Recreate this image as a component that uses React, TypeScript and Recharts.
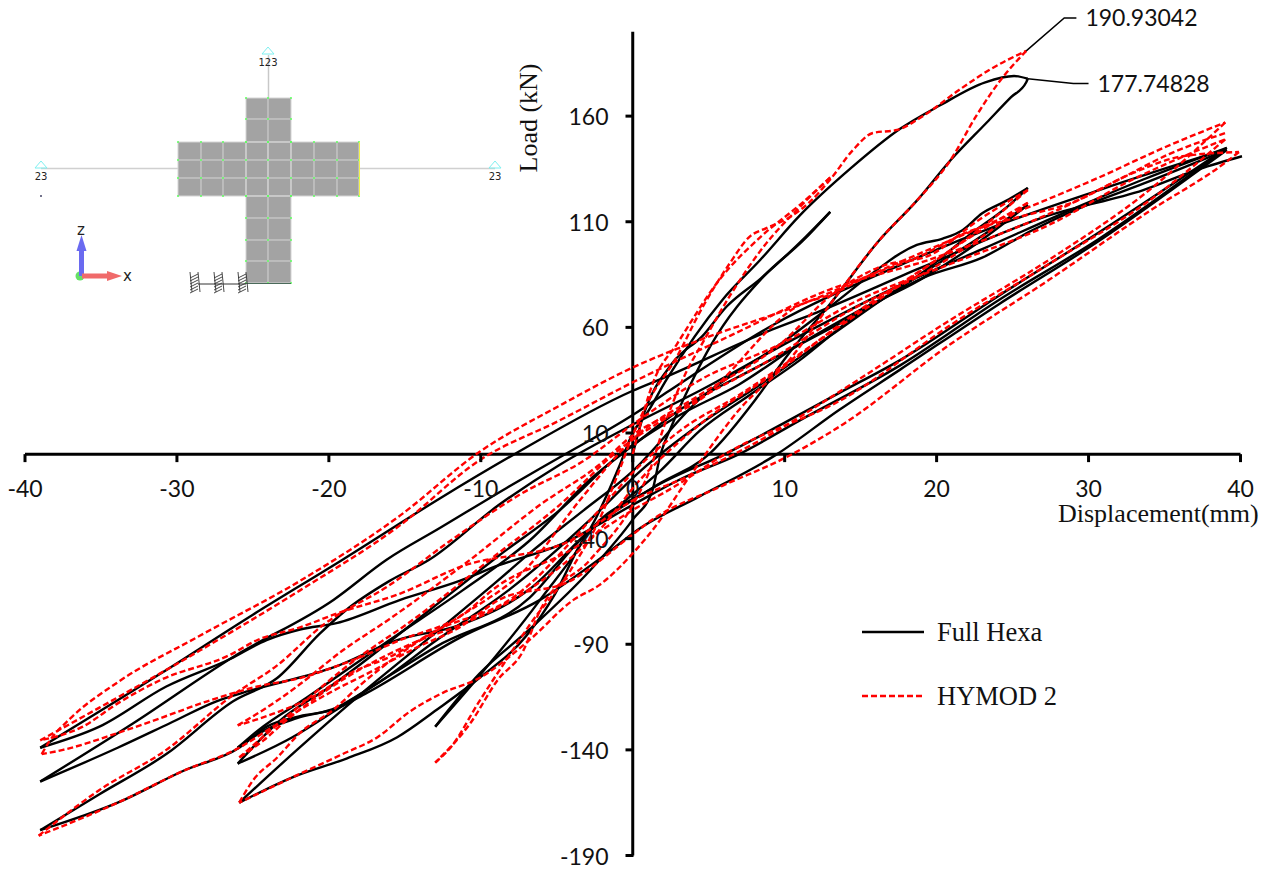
import React from 'react';
import { LineChart, Line, XAxis, YAxis, ReferenceLine, ReferenceDot, Legend } from 'recharts';

type P = [number, number];

const xTicks = [-40, -30, -20, -10, 0, 10, 20, 30, 40];
const yTicks = [-190, -140, -90, -40, 10, 60, 110, 160];
const xDomain: P = [-40, 40];
const yDomain: P = [-190, 210];
const yAxisTop = 200;
const seriesNames = ['Full Hexa', 'HYMOD 2'];

// Full Hexa: one array per half-cycle [displacement, load]
const hexa1: P[] = [[0,0],[0.6,16],[2.6,43],[4.6,56],[6.2,70],[8.4,83],[11.4,103],[13,114.7]];
const hexa2: P[] = [[13,114.7],[11.2,101],[8.6,84],[5.1,51],[3.8,33],[2.6,14],[1.8,-1],[1.3,-17],[0,-31],[-2.8,-55],[-6.8,-83],[-10.1,-104],[-13,-129]];
const hexa3: P[] = [[-13,-129],[-10.1,-105],[-6.1,-69],[-2.4,-30],[-0.9,-6],[0,10],[0.9,19],[2.2,35],[5.9,73],[8.4,92],[11,113],[14.3,135],[17.6,154],[20.2,165],[23.2,176],[25.1,179],[26,177.7]];
const hexa4: P[] = [[26,177.7],[25.9,176],[24.9,169],[23.3,157],[20.9,139],[18.7,120],[16.2,101],[13.2,73],[10.1,46],[8.2,27],[5.1,0.5],[1.3,-16],[-3.3,-41],[-5.1,-66],[-7,-86],[-10.1,-106],[-12.9,-121],[-15.5,-134],[-18.8,-144],[-22.4,-153],[-25.9,-165]];
const hexa5: P[] = [[-25.9,-165],[-22.1,-140],[-17.8,-113],[-13.4,-87],[-8.9,-60],[-6.8,-47],[-3.3,-27],[0,-8],[4.4,26],[9.7,52],[13.2,71],[16.4,89],[17.6,95],[18.7,99],[20.4,102],[21.7,106],[23,114],[24.6,120],[26,126]];
const hexa6: P[] = [[26,126],[24.8,118],[22.2,104],[18.9,85],[14.3,63.5],[11,44.5],[7.7,28],[4.4,11],[1.8,-8],[0,-19],[-3.5,-41],[-6.8,-68],[-12.9,-91],[-16.8,-108.5],[-19.3,-120],[-22.4,-134],[-26,-146.5]];
const hexa7: P[] = [[-26,-146.5],[-23.2,-126],[-19.9,-110],[-13.4,-74],[-8.8,-48],[-4.8,-26.5],[-0.9,-0.5],[3.1,18.5],[7,33],[11,52],[14.9,68],[18.9,82.5],[22.5,99],[26,118]];
const hexa8: P[] = [[26,118],[22.5,101],[17.6,79],[13,56],[8.4,33],[4.4,14],[0.5,-8],[-2.8,-31],[-8.1,-64],[-12.9,-88],[-16.8,-108.5],[-17.8,-113],[-19.5,-120],[-22.1,-125],[-24.3,-131],[-26,-139]];
const hexa9: P[] = [[-26,-139],[-24.7,-131],[-21.4,-115],[-16,-88],[-11.2,-64.5],[-6.8,-41],[-2.8,-12],[0,4],[3.1,21],[8.4,42],[14.3,64.5],[19.3,84],[23,93],[26.3,106],[29.6,117],[33.6,128],[39.1,144]];
const hexa10: P[] = [[39.1,144],[37.3,134.6],[30.7,101],[24.1,71],[17.6,40],[13.6,21],[9.5,0],[4.4,-20],[0.5,-35],[-1.7,-47],[-6.1,-69],[-11.4,-87],[-17.5,-113],[-19.7,-121],[-21.9,-124],[-24.1,-129],[-25.9,-139],[-29.6,-150],[-33.9,-165],[-39,-178]];
const hexa11: P[] = [[-39,-178],[-35.1,-161],[-30.7,-142],[-26.3,-117],[-23.4,-106],[-20.6,-85],[-18.9,-74],[-16,-60],[-13.4,-50],[-8.8,-24],[-4.8,-5],[0,14],[4.4,30],[11,56],[17.6,80],[23,97],[29.6,118],[33.6,130],[39.1,145]];
const hexa12: P[] = [[39.1,145],[30.7,105],[24.1,75],[17.6,44.5],[13.6,29],[6.2,0.5],[1.3,-16],[-2.8,-36],[-6.8,-64],[-11.4,-81],[-15.5,-88],[-19.7,-101],[-25.2,-112],[-27.4,-117],[-30.5,-127.5],[-33.9,-139],[-39,-155]];
const hexa13: P[] = [[-39,-155],[-32.9,-127.5],[-26.3,-96],[-19.7,-69],[-16.2,-50],[-12.7,-35],[-8.3,-16],[-4.8,-1.5],[0,18.5],[2.4,30],[9.2,61],[17.6,89.5],[24.1,108.5],[30.7,125],[38.9,144]];
const hexa14: P[] = [[38.9,144],[30.7,102],[24.1,73],[17.6,42],[11,16],[7,0],[3.1,-12],[0,-24],[-4.8,-43],[-8.8,-52.6],[-11.4,-60],[-15.3,-69],[-19.5,-80],[-21.9,-83],[-24.1,-88],[-26.5,-97],[-30.7,-110],[-35.1,-129],[-39,-139]];
const hexa15: P[] = [[-39,-139],[-31.1,-104],[-25,-76],[-19.1,-50],[-12.7,-21],[-7.9,-0.5],[0,30],[2,36],[9.2,59],[12.1,67],[18.9,88],[27.4,113],[33.6,125],[37.3,135],[40.1,141]];

// HYMOD 2: one array per half-cycle [displacement, load]
const hymod1: P[] = [[0,0],[1.4,35],[2.9,52],[5.7,82.5],[8.6,104],[11,118],[13,131]];
const hymod2: P[] = [[13,131],[11,117],[8.7,99],[6.4,75],[4.7,54],[3.4,37],[2.1,14],[1.1,-8],[0,-24],[-2.8,-50],[-6.1,-74],[-7.2,-93],[-8.9,-107],[-10.7,-127.5],[-13,-146]];
const hymod3: P[] = [[-13,-146],[-12,-139],[-10.1,-117],[-8.1,-95],[-6.8,-81],[-4.1,-55],[-2.2,-31],[-0.9,-8],[0,9],[1.1,26],[2.9,46],[4.4,67],[6.4,90.5],[7.7,103],[8.8,107],[10.3,112],[11.6,119],[13,130],[14.5,144],[15.8,152],[17.4,153.5],[19.2,160.5],[21.5,172.5],[23.5,182],[25.9,190.9]];
const hymod4: P[] = [[25.9,190.9],[24.1,176],[22.6,160],[20.9,139],[18.7,120],[16.2,101],[13.2,73],[10.3,44.5],[7,21],[3.9,-9],[1.3,-36],[0,-47],[-2.2,-62],[-3.9,-69],[-6.8,-88],[-10.1,-106],[-12.5,-113],[-14.7,-122],[-16.8,-134],[-19.1,-142],[-22.4,-153],[-25.9,-165]];
const hymod5: P[] = [[-25.9,-165],[-25,-154.5],[-23.4,-143.6],[-21.9,-132],[-19.7,-121],[-17.8,-108.5],[-14.7,-91.5],[-11.4,-77],[-6.8,-52.6],[-3.5,-22],[0,7],[4.4,28],[9.7,52],[13.2,76],[16.4,89],[19.5,94],[22.8,111],[26,125]];
const hymod6: P[] = [[26,125],[23.2,108.5],[19.5,89.6],[14.9,68],[9.7,40],[4.4,14],[0.5,-12],[-2.2,-36],[-6.8,-64],[-11.4,-81],[-14,-88],[-20.4,-113],[-22.8,-126],[-24.3,-135.5],[-25.9,-143.6]];
const hymod7: P[] = [[-25.9,-143.6],[-24.2,-133],[-21.9,-119],[-19.1,-102],[-14,-76],[-9.4,-50],[-4.8,-24],[-0.9,2],[3.1,21],[9,44.5],[14.3,68],[19.5,87],[23.2,104],[26,119]];
const hymod8: P[] = [[26,119],[22.5,104],[17.6,80],[12.3,54],[7,28],[3.1,11],[0.1,-8],[-2.2,-26.5],[-7.9,-68],[-12.9,-83.4],[-16,-96],[-18.4,-103],[-21.1,-115],[-23.7,-123],[-26,-128.4]];
const hymod9: P[] = [[-26,-128.4],[-24.3,-121],[-22.1,-110],[-19.1,-93],[-16,-78],[-10.7,-50],[-6.1,-24],[-2.2,-5],[0,9],[4.4,25.6],[11,70.6],[13.2,76],[15.4,84],[18.7,93],[22,105],[25.3,112],[28.9,119],[32.9,133],[36.2,141],[39.9,143]];
const hymod10: P[] = [[39.9,143],[39,138],[34,115],[27.4,82.5],[20.9,52],[13.6,13],[10.1,-1.5],[5.9,-15],[1.3,-31],[0,-38],[-4.1,-60],[-8.8,-69],[-11.4,-82],[-14.2,-91.5],[-17.5,-104],[-19.7,-112],[-21.9,-121],[-24.1,-131],[-25.9,-139],[-29.6,-150],[-33.9,-165],[-39.1,-180.6]];
const hymod11: P[] = [[-39.1,-180.6],[-35.1,-159],[-30.7,-140],[-26.3,-114],[-23.4,-100],[-20.4,-81],[-16,-62],[-12,-41],[-7.4,-19],[-3.2,-3],[0,14],[4.4,35],[9.7,52],[14.9,73],[20.9,90],[27.4,108.5],[32.9,130],[36.6,142],[39,149]];
const hymod12: P[] = [[39,149],[34,120],[27.4,90],[20.9,61],[14.3,28],[6.2,0.5],[2.6,-16],[0,-26.5],[-4.1,-45.5],[-8.8,-62],[-11.4,-77],[-15.3,-88],[-18.6,-98],[-21.9,-106],[-24.7,-110],[-28,-117],[-31.1,-125],[-33.9,-132],[-37.5,-140],[-38.9,-142]];
const hymod13: P[] = [[-38.9,-142],[-38.4,-136],[-37,-125],[-33.9,-108],[-28.5,-86],[-21.9,-60],[-15.3,-29],[-10.1,1],[-4.8,23],[0,41],[4.4,54],[11,70.6],[17.6,91],[24.1,111],[30.7,131],[35.1,145.5],[39,157]];
const hymod14: P[] = [[39,157],[34,125],[27.4,92],[20.9,63.5],[14.3,32.7],[8.4,6.6],[3.8,-10],[0,-22],[-4.1,-41],[-11.4,-53.5],[-15.3,-66],[-19.3,-75],[-21.9,-82],[-24.7,-88],[-26.5,-95],[-31.1,-107],[-33.9,-118],[-36.2,-129],[-39,-135.5]];
const hymod15: P[] = [[-39,-135.5],[-35.1,-120],[-28.5,-93],[-21.9,-64.5],[-15.3,-33.6],[-10.1,-3],[-4.8,16],[0,34],[6.4,56],[13,78],[19.5,92],[24.1,104],[28.1,116],[32,130],[35.3,142],[39,152]];

const hexaBranches = [hexa1,hexa2,hexa3,hexa4,hexa5,hexa6,hexa7,hexa8,hexa9,hexa10,hexa11,hexa12,hexa13,hexa14,hexa15];
const hymodBranches = [hymod1,hymod2,hymod3,hymod4,hymod5,hymod6,hymod7,hymod8,hymod9,hymod10,hymod11,hymod12,hymod13,hymod14,hymod15];

// Callouts
const hymodPeakLeader: P[] = [[25.9,190.9],[28.4,206.5],[29.2,206.5]];
const hexaPeakLeader: P[] = [[26,177.7],[29,175.5],[30,175.5]];
const hymodPeakLabel = '190.93042';
const hexaPeakLabel = '177.74828';

// FE-model inset
const insetColsArm = [178, 201, 223, 246, 268, 291, 314, 337, 359];
const insetRowsArm = [142, 160, 178, 196];
const insetColsCol = [246, 268, 291];
const insetRowsCol = [98, 119, 142, 196, 218, 240, 261, 283];
const insetSupports = [193, 217, 241];
const insetPins = [[41, 165, '23'], [268, 51, '123'], [495, 165, '23']] as const;

const W = 1273, H = 870;
const AXW = 1; // minimal thickness Recharts needs to render an axis
const M = { left: 24, right: 31, top: 10.5, bottom: 13.5 };
const plotW = W - M.left - AXW - M.right;
const plotH = H - M.top - M.bottom - AXW;
const plotLeft = M.left + AXW;
const AXIS_X = plotLeft + plotW * (0 - xDomain[0]) / (xDomain[1] - xDomain[0]);
const AXIS_Y = M.top + plotH * (yDomain[1] - 0) / (yDomain[1] - yDomain[0]);
const NUM = 'Lato, Carlito, sans-serif';
const SERIF = '"Liberation Serif", "Times New Roman", serif';

const pts = (b: P[]) => b.map(([x, y]) => ({ x, y }));

const XTick = (p: any) => (
  <g>
    <line x1={p.x} x2={p.x} y1={AXIS_Y} y2={AXIS_Y + 8} stroke="#000" strokeWidth={3} />
    <text x={p.x} y={AXIS_Y + 43} textAnchor="middle" fontFamily={NUM} fontSize={23} fill="#111">{p.payload.value}</text>
  </g>
);
const YTick = (p: any) => (
  <g>
    <line x1={AXIS_X - 8} x2={AXIS_X} y1={p.y} y2={p.y} stroke="#000" strokeWidth={3} />
    <text x={AXIS_X - 25} y={p.y + 9} textAnchor="end" fontFamily={NUM} fontSize={23} fill="#111">{p.payload.value}</text>
  </g>
);

const LegendBox = (props: any) => {
  const items = seriesNames.map(n => (props.payload || []).find((it: any) => it.value === n)).filter(Boolean);
  return (
    <div style={{ width: 220 }}>
      {items.map((it: any, i: number) => (
        <div key={i} style={{ display: 'flex', alignItems: 'center', height: 64 }}>
          <svg width={64} height={6} style={{ display: 'block' }}>
            <line x1={1} x2={63} y1={3} y2={3} stroke={it.color} strokeWidth={2.5} strokeDasharray={it.payload?.strokeDasharray} />
          </svg>
          <span style={{ marginLeft: 12, fontFamily: SERIF, fontSize: 26.5, color: '#111', lineHeight: '30px' }}>{it.value}</span>
        </div>
      ))}
    </div>
  );
};

const Inset = () => (
  <svg width={520} height={300} style={{ position: 'absolute', left: 0, top: 0, pointerEvents: 'none' }}>
    <line x1={41} x2={495} y1={168.5} y2={168.5} stroke="#d0d0d0" strokeWidth={1.5} />
    <line x1={268.5} x2={268.5} y1={55} y2={98} stroke="#c8c8c8" strokeWidth={1.5} />
    <rect x={178} y={142} width={181} height={54} fill="#a3a3a3" />
    <rect x={246} y={98} width={45} height={185} fill="#a3a3a3" />
    {insetRowsArm.map(y => <line key={'a' + y} x1={178} x2={359} y1={y} y2={y} stroke="#d4d4d4" strokeWidth={1} />)}
    {insetColsArm.map(x => <line key={'b' + x} x1={x} x2={x} y1={142} y2={196} stroke="#d4d4d4" strokeWidth={1} />)}
    {insetRowsCol.map(y => <line key={'c' + y} x1={246} x2={291} y1={y} y2={y} stroke="#d4d4d4" strokeWidth={1} />)}
    {insetColsCol.map(x => <line key={'d' + x} x1={x} x2={x} y1={98} y2={283} stroke="#d4d4d4" strokeWidth={1} />)}
    {insetColsArm.flatMap(x => insetRowsArm.map(y => <circle key={`n${x}-${y}`} cx={x} cy={y} r={1} fill="#5dff5d" />))}
    {insetColsCol.flatMap(x => insetRowsCol.map(y => <circle key={`m${x}-${y}`} cx={x} cy={y} r={1} fill="#5dff5d" />))}
    <line x1={359.5} x2={359.5} y1={142} y2={196} stroke="#f2f24a" strokeWidth={1} />
    <line x1={246} x2={291} y1={283.5} y2={283.5} stroke="#4a6a5a" strokeWidth={1.2} />
    <line x1={198} x2={246} y1={284} y2={284} stroke="#333" strokeWidth={1} />
    {insetPins.map(([x, y, t], i) => (
      <g key={i}>
        <path d={`M${x - 6} ${y + 3}L${x} ${y - 4}L${x + 6} ${y + 3}Z`} fill="none" stroke="#7ff0f0" strokeWidth={1} />
        <text x={x} y={y + 15} textAnchor="middle" fontFamily="DejaVu Sans, sans-serif" fontSize={10} fill="#222">{t}</text>
      </g>
    ))}
    <circle cx={41} cy={196} r={1} fill="#446" />
    {insetSupports.map(x => (
      <g key={x} stroke="#333" strokeWidth={0.9}>
        {[0, 1, 2, 3, 4, 5].map(k => <line key={k} x1={x - 3} x2={x + 5} y1={278 + k * 3} y2={274 + k * 3} />)}
        <line x1={x - 3} x2={x - 1} y1={272} y2={292} />
        <line x1={x + 5} x2={x + 7} y1={272} y2={292} />
      </g>
    ))}
    <circle cx={80} cy={276} r={4.5} fill="#66e066" />
    <rect x={79} y={250} width={5} height={26} fill="#6a6af0" />
    <path d="M81.5 235L76.5 251L86.5 251Z" fill="#6a6af0" />
    <rect x={82} y={273.5} width={26} height={5} fill="#f06a6a" />
    <path d="M122 276L107 271L107 281Z" fill="#f06a6a" />
    <text x={81} y={235} textAnchor="middle" fontFamily="DejaVu Sans, sans-serif" fontSize={15} fill="#222">z</text>
    <text x={127.5} y={281} textAnchor="middle" fontFamily="DejaVu Sans, sans-serif" fontSize={15} fill="#222">x</text>
  </svg>
);

export default function App() {
  return (
    <div style={{ position: 'absolute', left: 0, top: 0, width: W, height: H, background: '#fff' }}>
      <LineChart width={W} height={H} margin={M}>
        <XAxis dataKey="x" type="number" domain={xDomain} ticks={xTicks} interval={0} height={AXW} axisLine={false} tickLine={false} tickSize={0} tick={XTick} allowDuplicatedCategory={false} />
        <YAxis dataKey="y" type="number" domain={yDomain} ticks={yTicks} interval={0} width={AXW} axisLine={false} tickLine={false} tickSize={0} tick={YTick} />
        <ReferenceLine segment={[{ x: xDomain[0], y: 0 }, { x: xDomain[1], y: 0 }]} stroke="#000" strokeWidth={3} />
        <ReferenceLine segment={[{ x: 0, y: yDomain[0] }, { x: 0, y: yAxisTop }]} stroke="#000" strokeWidth={3} />
        {hexaBranches.map((b, i) => (
          <Line key={'h' + i} data={pts(b)} dataKey="y" name={seriesNames[0]} type="monotone" stroke="#000" strokeWidth={2.4} dot={false} activeDot={false} legendType={i === 0 ? 'line' : 'none'} isAnimationActive={false} />
        ))}
        {hymodBranches.map((b, i) => (
          <Line key={'r' + i} data={pts(b)} dataKey="y" name={seriesNames[1]} type="monotone" stroke="#ff0000" strokeWidth={2.4} strokeDasharray="6 3" dot={false} activeDot={false} legendType={i === 0 ? 'line' : 'none'} isAnimationActive={false} />
        ))}
        <Line data={pts(hymodPeakLeader)} dataKey="y" type="linear" stroke="#000" strokeWidth={1.5} dot={false} activeDot={false} legendType="none" isAnimationActive={false} />
        <Line data={pts(hexaPeakLeader)} dataKey="y" type="linear" stroke="#000" strokeWidth={1.5} dot={false} activeDot={false} legendType="none" isAnimationActive={false} />
        <ReferenceDot x={hymodPeakLeader[2][0]} y={hymodPeakLeader[2][1]} r={0} stroke="none" fill="none" label={{ value: hymodPeakLabel, position: 'right', offset: 9, fontFamily: NUM, fontSize: 23, fill: '#111' }} />
        <ReferenceDot x={hexaPeakLeader[2][0]} y={hexaPeakLeader[2][1]} r={0} stroke="none" fill="none" label={{ value: hexaPeakLabel, position: 'right', offset: 9, fontFamily: NUM, fontSize: 23, fill: '#111' }} />
        <Legend content={LegendBox} layout="horizontal" verticalAlign="middle" align="center" wrapperStyle={{ left: 861, top: 600, width: 230 }} />
        <text x={1058} y={522} fontFamily={SERIF} fontSize={26} fill="#111">Displacement(mm)</text>
        <text transform="translate(537,118) rotate(-90)" textAnchor="middle" fontFamily={SERIF} fontSize={26} fill="#111">Load (kN)</text>
      </LineChart>
      <Inset />
    </div>
  );
}
